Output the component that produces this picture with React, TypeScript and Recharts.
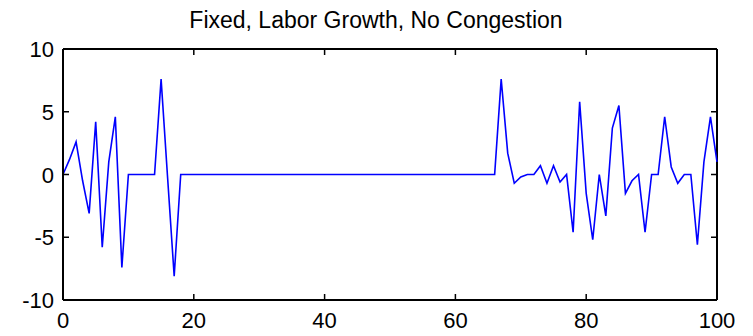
import React from "react";
import { LineChart, Line, XAxis, YAxis, ReferenceLine } from "recharts";

// page has an 8px body margin by default, drop it so the chart sits at 0,0
document.body.style.margin = "0";

const TITLE = "Fixed, Labor Growth, No Congestion";

// one value per period, periods 0..100
const deviation: number[] = [
  0, 1.2, 2.6, -0.5, -3.1, 4.2, -5.8, 1.0, 4.6, -7.4,
  0, 0, 0, 0, 0, 7.6, -0.3, -8.1, 0, 0,
  0, 0, 0, 0, 0, 0, 0, 0, 0, 0,
  0, 0, 0, 0, 0, 0, 0, 0, 0, 0,
  0, 0, 0, 0, 0, 0, 0, 0, 0, 0,
  0, 0, 0, 0, 0, 0, 0, 0, 0, 0,
  0, 0, 0, 0, 0, 0, 0, 7.6, 1.7, -0.7,
  -0.2, 0, 0, 0.7, -0.7, 0.7, -0.6, 0, -4.6, 5.8,
  -1.5, -5.2, 0, -3.3, 3.7, 5.5, -1.5, -0.5, 0, -4.6,
  0, 0, 4.6, 0.6, -0.7, 0, 0, -5.6, 1.0, 4.6,
  1.0,
];

const xTicks = [0, 20, 40, 60, 80, 100];
const yTicks = [-10, -5, 0, 5, 10];
const xDomain = [0, 100];
const yDomain = [-10, 10];

const data = deviation.map((value, period) => ({ period, value }));

const FONT = "'Liberation Sans', Arial, sans-serif";
const TICK_LEN = 6;

// plot box edges in px (from the margins / axis sizes below)
const W = 753;
const H = 336;
const M_TOP = 49;
const M_RIGHT = 36;
const Y_W = 63;
const X_H = 36;
const P_LEFT = Y_W;
const P_RIGHT = W - M_RIGHT;
const P_TOP = M_TOP;
const P_BOTTOM = H - X_H;

// matlab style: ticks point into the box on all four sides, labels outside
const XTick = (props: any) => {
  const { x, payload } = props;
  return (
    <g>
      <path
        d={`M${x},${P_BOTTOM}V${P_BOTTOM - TICK_LEN}M${x},${P_TOP}V${P_TOP + TICK_LEN}`}
        stroke="#000"
        strokeWidth={1.5}
        fill="none"
      />
      <text x={x} y={P_BOTTOM + 28} textAnchor="middle" fontSize={22} fontFamily={FONT} fill="#000">
        {payload.value}
      </text>
    </g>
  );
};

const YTick = (props: any) => {
  const { y, payload } = props;
  return (
    <g>
      <path
        d={`M${P_LEFT},${y}H${P_LEFT + TICK_LEN}M${P_RIGHT},${y}H${P_RIGHT - TICK_LEN}`}
        stroke="#000"
        strokeWidth={1.5}
        fill="none"
      />
      <text x={P_LEFT - 9} y={y + 8} textAnchor="end" fontSize={22} fontFamily={FONT} fill="#000">
        {payload.value}
      </text>
    </g>
  );
};

const boxLine = { stroke: "#000", strokeWidth: 2, ifOverflow: "visible" as const };

export default function App() {
  return (
    <div style={{ width: W, height: H, background: "#fff" }}>
      <LineChart
        width={W}
        height={H}
        data={data}
        margin={{ top: M_TOP, right: M_RIGHT, bottom: 0, left: 0 }}
      >
        <text x={376} y={28} textAnchor="middle" fontSize={23} fontFamily={FONT} fill="#000">
          {TITLE}
        </text>
        <XAxis
          dataKey="period"
          type="number"
          domain={xDomain}
          ticks={xTicks}
          height={X_H}
          tickSize={0}
          tickMargin={0}
          tickLine={false}
          tick={<XTick />}
          axisLine={{ stroke: "#000", strokeWidth: 2 }}
          interval={0}
        />
        <YAxis
          type="number"
          domain={yDomain}
          ticks={yTicks}
          width={Y_W}
          tickSize={0}
          tickMargin={0}
          tickLine={false}
          tick={<YTick />}
          axisLine={{ stroke: "#000", strokeWidth: 2 }}
          interval={0}
        />
        <ReferenceLine y={yDomain[1]} {...boxLine} />
        <ReferenceLine x={xDomain[1]} {...boxLine} />
        <Line
          type="linear"
          dataKey="value"
          stroke="#0000ff"
          strokeWidth={1.6}
          dot={false}
          activeDot={false}
          isAnimationActive={false}
        />
      </LineChart>
    </div>
  );
}
